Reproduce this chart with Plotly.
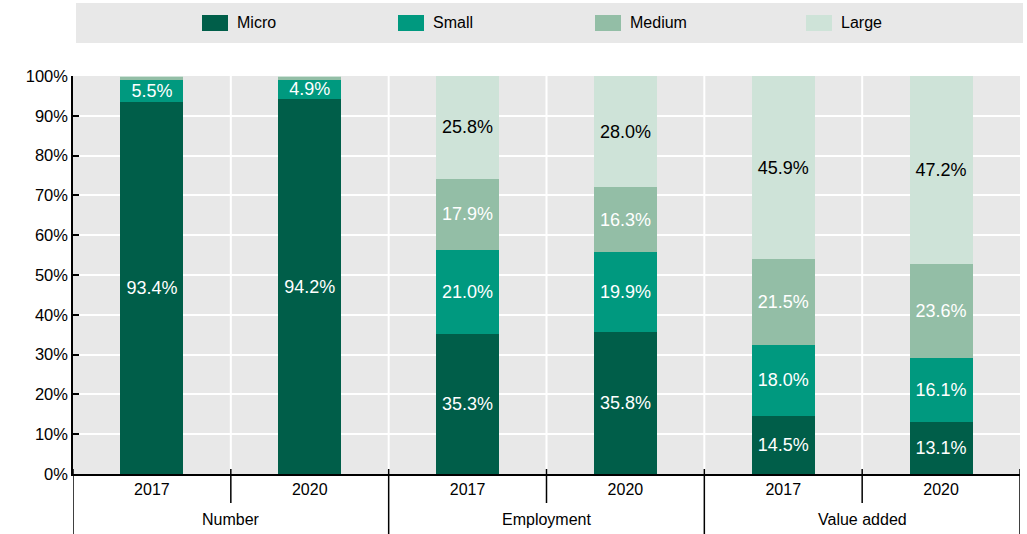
import plotly.graph_objects as go

groups = ["Number", "Number", "Employment", "Employment", "Value added", "Value added"]
years = ["2017", "2020", "2017", "2020", "2017", "2020"]
group_names = ["Number", "Employment", "Value added"]

micro = [93.4, 94.2, 35.3, 35.8, 14.5, 13.1]
small = [5.5, 4.9, 21.0, 19.9, 18.0, 16.1]
medium = [0.9, 0.8, 17.9, 16.3, 21.5, 23.6]
large = [0.2, 0.1, 25.8, 28.0, 45.9, 47.2]

series_names = ["Micro", "Small", "Medium", "Large"]
series_vals = [micro, small, medium, large]
colors = ["#005e49", "#00997f", "#93bea6", "#cee3d8"]
text_colors = ["white", "white", "white", "black"]

FONT = "Liberation Sans, Arial, sans-serif"

x_idx = list(range(len(years)))

fig = go.Figure()
for name, vals, col, tcol in zip(series_names, series_vals, colors, text_colors):
    labels = [f"{v:.1f}%" if v >= 3 else "" for v in vals]
    fig.add_trace(go.Bar(
        x=x_idx, y=vals, name=name, marker=dict(color=col, line=dict(width=0)),
        width=0.4, text=labels, textposition="inside", insidetextanchor="middle",
        textangle=0, textfont=dict(color=tcol, family=FONT, size=18),
        showlegend=False, hoverinfo="skip",
    ))

shapes = []
# white vertical separators between bars
for b in [i + 0.5 for i in range(len(years) - 1)]:
    shapes.append(dict(type="line", xref="x", yref="paper", x0=b, x1=b, y0=0, y1=1,
                       line=dict(color="white", width=2), layer="below"))
# axis dividers below plot
ph = 398.0
for i in range(len(years) + 1):
    b = i - 0.5
    if i % 2 == 0:
        y1 = -60 / ph
    else:
        y1 = -29 / ph
    shapes.append(dict(type="line", xref="x", yref="paper", x0=b, x1=b, y0=5 / ph, y1=y1,
                       line=dict(color="black", width=1.5)))
# legend box
shapes.append(dict(type="rect", xref="paper", yref="paper",
                   x0=(76 - 73) / 947, x1=(1023 - 73) / 947,
                   y0=(474 - 43) / ph, y1=(474 - 3) / ph,
                   fillcolor="#e8e8e8", line=dict(width=0), layer="below"))

annotations = []
# group labels
for gi, g in enumerate(group_names):
    annotations.append(dict(x=2 * gi + 0.5, y=-45 / ph, xref="x", yref="paper",
                            text=g, showarrow=False, yanchor="middle", xanchor="center",
                            font=dict(family=FONT, size=16, color="black")))

# manual legend
sw_x = [202, 398, 595, 806]
for name, col, sx in zip(series_names, colors, sw_x):
    x0 = (sx - 73) / 947
    x1 = (sx + 26 - 73) / 947
    shapes.append(dict(type="rect", xref="paper", yref="paper", x0=x0, x1=x1,
                       y0=(474 - 31) / ph, y1=(474 - 15) / ph,
                       fillcolor=col, line=dict(width=0)))
    annotations.append(dict(x=(sx + 33 - 73) / 947, y=(474 - 23) / ph, xref="paper", yref="paper",
                            text=name, showarrow=False, xanchor="left", yanchor="middle",
                            font=dict(family=FONT, size=16, color="black")))

fig.update_layout(
    barmode="stack",
    width=1027, height=534,
    margin=dict(l=73, r=7, t=76, b=60, pad=0),
    paper_bgcolor="white", plot_bgcolor="#e8e8e8",
    font=dict(family=FONT, color="black"),
    shapes=shapes, annotations=annotations,
    uniformtext=dict(minsize=18, mode="show"),
    xaxis=dict(range=[-0.5, 5.5], tickmode="array", tickvals=x_idx, ticktext=years,
               showgrid=False, zeroline=False, showline=True, linecolor="black", linewidth=1.5,
               ticks="", tickfont=dict(family=FONT, size=16, color="black")),
    yaxis=dict(range=[0, 100], dtick=10, ticksuffix="%", showgrid=True, gridcolor="white",
               gridwidth=2, zeroline=False, showline=True, linecolor="black", linewidth=1.5,
               ticks="inside", ticklen=6, tickcolor="black", tickwidth=1.5,
               tickfont=dict(family=FONT, size=16.5, color="black")),
)

fig.write_html("out.html")
